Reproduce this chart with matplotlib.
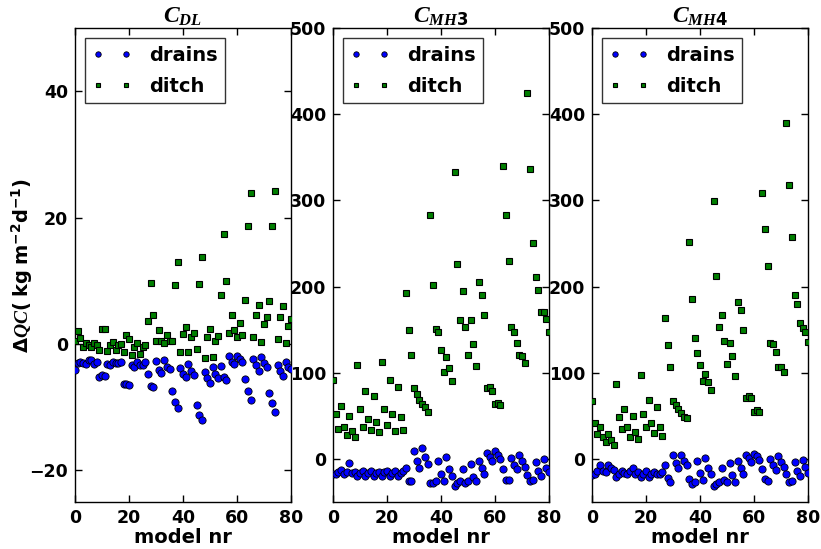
import numpy as np
import matplotlib
matplotlib.use("Agg")
import matplotlib.pyplot as plt

plt.rcParams["font.family"] = ["DejaVu Sans"]
plt.rcParams["font.weight"] = "bold"
plt.rcParams["mathtext.fontset"] = "custom"
plt.rcParams["mathtext.it"] = "Liberation Serif:italic:bold"
plt.rcParams["mathtext.rm"] = "DejaVu Sans:bold"
plt.rcParams["mathtext.bf"] = "DejaVu Sans:bold"

model_nr = np.arange(81)

dl_drains = [-4.1, -3.0, -2.9, -3.0, -3.2, -2.6, -2.6, -3.1, -2.8,
             -5.2, -4.9, -5.0, -3.2, -3.4, -2.8, -3.0, -3.0, -2.9,
             -6.3, -6.3, -6.5, -3.4, -3.7, -2.9, -3.3, -3.3, -2.8,
             -4.7, -6.6, -6.8, -2.7, -4.1, -4.6, -2.6, -3.6, -4.0,
             -7.4, -9.2, -10.2, -3.8, -4.8, -5.3, -3.2, -4.2, -4.9,
             -9.7, -11.2, -12.1, -4.4, -5.4, -6.1, -3.6, -4.7, -5.4,
             -3.5, -5.2, -5.7, -1.9, -2.9, -3.1, -1.9, -2.4, -2.9,
             -5.6, -7.5, -8.8, -2.3, -3.4, -4.2, -2.1, -3.0, -3.6,
             -7.7, -9.4, -10.8, -3.3, -4.3, -5.1, -2.8, -3.6, -4.0]
dl_ditch = [0.5, 2.1, 1.0, -0.4, 0.2, -0.2, -0.4, 0.1, -0.2,
            -1.0, 2.3, 2.3, -1.1, -0.1, 0.3, -1.0, -0.2, 0.0,
            -1.3, 1.4, 0.8, -1.7, -0.4, 0.1, -1.6, -0.4, -0.1,
            3.7, 9.7, 4.6, 0.4, 2.2, 0.5, 0.1, 1.5, 0.4,
            0.4, 9.3, 13.0, -1.3, 1.6, 2.7, -1.2, 1.1, 1.7,
            -0.8, 9.5, 13.8, -2.2, 1.1, 2.3, -2.0, 0.5, 1.3,
            7.7, 17.4, 9.9, 1.8, 4.6, 2.2, 1.1, 3.3, 1.5,
            6.9, 18.7, 23.9, 1.1, 4.6, 6.2, 0.3, 3.1, 4.3,
            6.8, 18.7, 24.2, 0.8, 4.3, 6.0, 0.1, 2.8, 3.9]

mh3_drains = [-17, -18, -15, -13, -17, -15, -5, -16, -15,
              -20, -16, -14, -20, -16, -14, -20, -16, -15,
              -20, -15, -14, -20, -16, -14, -20, -16, -14,
              -10, -26, -26, 9, -3, -11, 13, 2, -6,
              -28, -28, -26, -3, -18, -26, 2, -12, -20,
              -31, -28, -26, -12, -28, -26, -6, -21, -26,
              -2, -11, -18, 7, 2, -2, 9, 4, 0,
              -12, -24, -25, 1, -7, -12, 4, -3, -9,
              -19, -26, -25, -4, -14, -20, 0, -10, -15]
mh3_ditch = [92, 52, 35, 61, 37, 28, 50, 32, 25,
             109, 58, 37, 79, 46, 33, 73, 43, 31,
             112, 58, 39, 91, 52, 32, 83, 49, 33,
             193, 150, 121, 82, 75, 68, 64, 60, 55,
             283, 202, 151, 147, 126, 101, 118, 105, 90,
             333, 226, 161, 195, 153, 121, 161, 133, 108,
             205, 190, 167, 82, 83, 79, 64, 65, 62,
             340, 283, 230, 153, 147, 135, 121, 119, 111,
             424, 336, 250, 211, 196, 171, 170, 162, 147]

mh4_drains = [-19, -17, -14, -7, -14, -15, -7, -11, -13,
              -21, -18, -14, -16, -17, -14, -11, -18, -15,
              -21, -17, -14, -21, -18, -15, -18, -18, -15,
              -7, -22, -27, 5, -5, -11, 5, -2, -7,
              -23, -29, -27, -3, -16, -24, 1, -11, -18,
              -32, -29, -27, -10, -25, -27, -5, -19, -27,
              -2, -11, -17, 5, 1, -4, 6, 3, -1,
              -12, -23, -26, 0, -7, -13, 3, -4, -9,
              -18, -27, -26, -4, -14, -20, -1, -9, -16]
mh4_ditch = [67, 42, 29, 37, 25, 20, 29, 22, 16,
             87, 49, 35, 58, 37, 26, 50, 31, 23,
             97, 52, 37, 68, 42, 30, 60, 37, 27,
             163, 132, 107, 67, 63, 58, 53, 49, 47,
             252, 186, 140, 123, 109, 90, 98, 89, 80,
             299, 212, 153, 167, 137, 110, 135, 119, 96,
             182, 173, 149, 71, 73, 71, 55, 57, 55,
             309, 267, 224, 135, 133, 124, 107, 107, 101,
             390, 318, 257, 190, 180, 158, 152, 147, 136]

titles = [r"$C_{DL}$", r"$C_{MH\mathit{3}}$", r"$C_{MH\mathit{4}}$"]
drains_sets = [dl_drains, mh3_drains, mh4_drains]
ditch_sets = [dl_ditch, mh3_ditch, mh4_ditch]
ylims = [(-25, 50), (-50, 500), (-50, 500)]
yticks = [[-20, 0, 20, 40], [0, 100, 200, 300, 400, 500], [0, 100, 200, 300, 400, 500]]
xticks = [0, 20, 40, 60, 80]

fig = plt.figure(figsize=(8.21, 5.49), dpi=100, facecolor="white")
lefts = [75, 333, 592]
W, H = 821.0, 549.0
for i in range(3):
    ax = fig.add_axes([lefts[i] / W, 1 - 502 / H, 216 / W, 474 / H])
    ax.plot(model_nr, drains_sets[i], "o", color="#0000ff", mec="k", mew=0.6,
            ms=5.2, label="drains", zorder=3)
    ax.plot(model_nr, ditch_sets[i], "s", color="#007f00", mec="k", mew=0.8,
            ms=4.6, label="ditch", zorder=3)
    ax.set_xlim(0, 80)
    ax.set_ylim(*ylims[i])
    ax.set_xticks(xticks)
    ax.set_yticks(yticks[i])
    ax.tick_params(direction="in", length=5, width=1, top=True, right=True,
                   labelsize=12.5, pad=5)
    for lab in ax.get_xticklabels() + ax.get_yticklabels():
        lab.set_fontweight("bold")
    for sp in ax.spines.values():
        sp.set_linewidth(1.0)
    ax.set_title(titles[i], fontsize=17, pad=4)
    ax.set_xlabel("model nr", fontsize=14, fontweight="bold", labelpad=1)
    leg = ax.legend(loc="upper left", numpoints=2, markerscale=0.75,
                    prop={"weight": "bold", "size": 14}, fancybox=False,
                    borderaxespad=0.5, handlelength=2.0, handletextpad=0.9,
                    labelspacing=0.62, borderpad=0.4)
    leg.get_frame().set_edgecolor("k")
    leg.get_frame().set_linewidth(1.0)
    if i == 0:
        ax.set_ylabel(r"$\Delta QC(\ \mathrm{kg\ m^{-2}d^{-1}})$", fontsize=14)
        ax.yaxis.set_label_coords(-0.185, 0.5)

fig.savefig("out.png", dpi=100, facecolor="white")
